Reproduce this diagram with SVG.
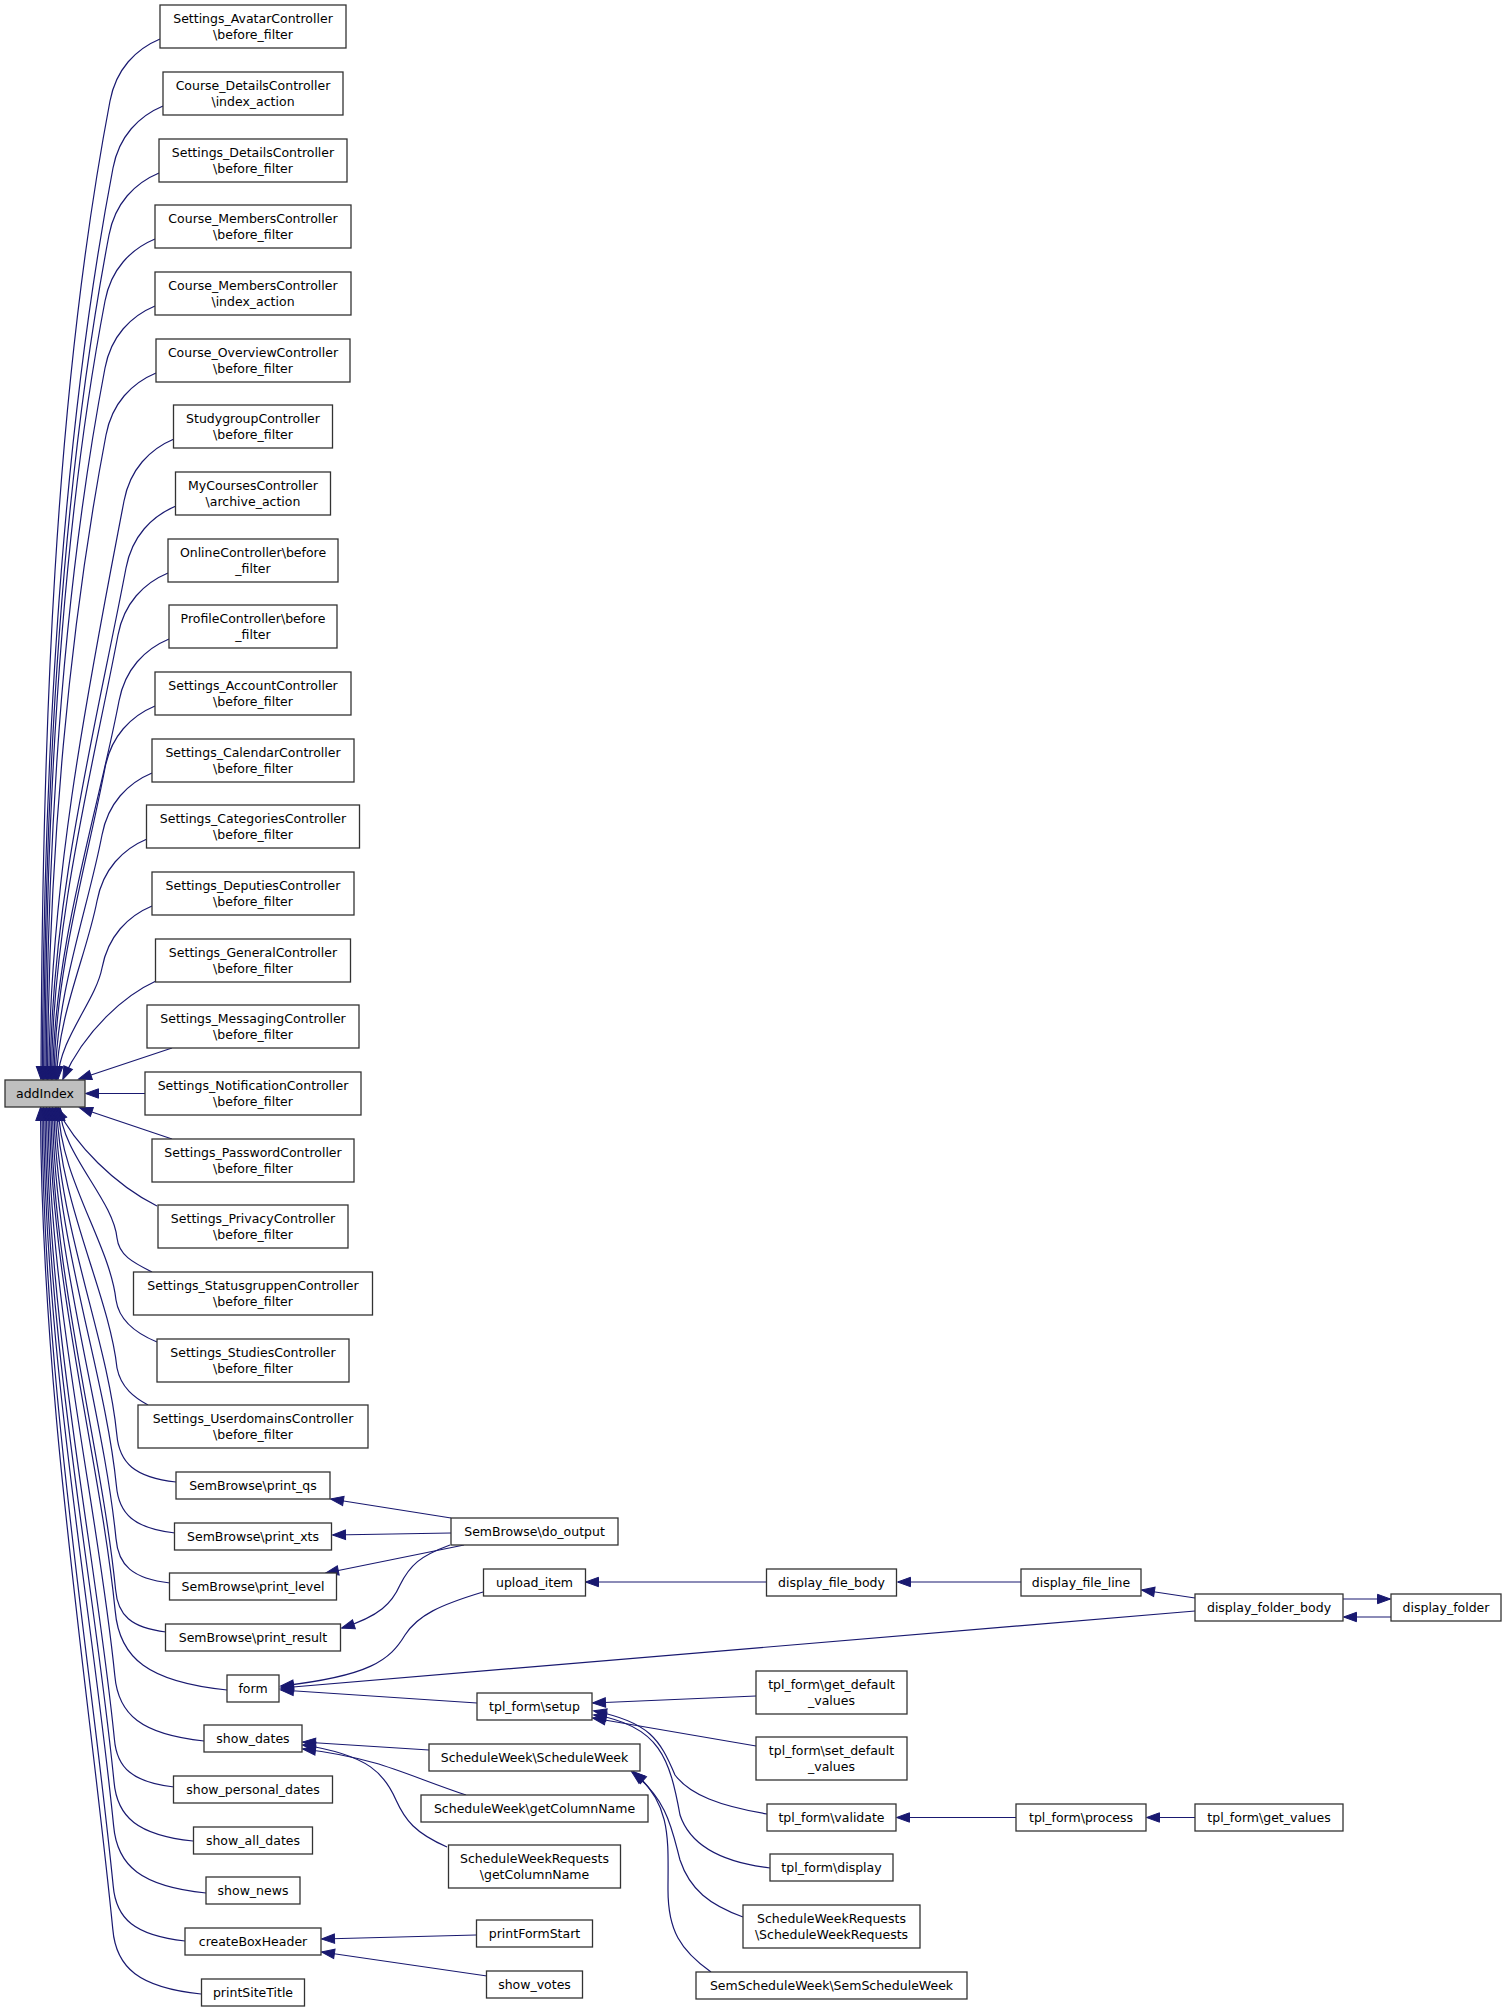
<svg xmlns="http://www.w3.org/2000/svg" width="1507" height="2011" viewBox="0 0 1507 2011">
<style>
.node rect{fill:#ffffff;stroke:#333333;stroke-width:1.3}
.node.root rect{fill:#bfbfbf}
text{font-family:"DejaVu Sans","Liberation Sans",sans-serif;font-size:12.5px;text-anchor:middle;fill:#000000}
#edges path{fill:none;stroke:#191970;stroke-width:1.2;marker-end:url(#ah)}
</style>
<defs>
<marker id="ah" viewBox="0 0 13 10" refX="12.5" refY="5" markerWidth="13" markerHeight="10" markerUnits="userSpaceOnUse" orient="auto" overflow="visible">
<path d="M0,0.3 L13,5 L0,9.7 Z" fill="#191970" stroke="#191970" stroke-width="1"/>
</marker>
</defs>
<rect x="0" y="0" width="1507" height="2011" fill="#ffffff"/>
<g id="edges">
<path d="M160,39 C136,49 116,69 110,101 C54.3,394 42,736 41,1079"/>
<path d="M163,106 C139,116 119,136 113,168 C61,441 43.3,759.5 42.3,1079"/>
<path d="M159,173 C135,183 115,203 109,235 C61,488 44.6,783 43.6,1079"/>
<path d="M155,239 C131,249 111,269 105,301 C60.7,534 45.9,806 44.9,1079"/>
<path d="M155,306 C131,316 111,336 105,368 C64.5,581 47.2,829.5 46.2,1079"/>
<path d="M156,373 C132,383 112,403 106,435 C69.3,628 48.5,853 47.5,1079"/>
<path d="M174,439 C150,449 130,469 124,501 C91,674 49.8,876 48.8,1079"/>
<path d="M176,506 C152,516 132,536 126,568 C97,721 51.1,899.5 50.1,1079"/>
<path d="M168,573 C144,583 124,603 118,635 C92.7,768 52.4,923 51.4,1079"/>
<path d="M169,639 C145,649 125,669 119,701 C97.5,814 53.7,946 52.7,1079"/>
<path d="M155,706 C131,716 111,736 105,768 C87.3,861 55,969.5 54,1079"/>
<path d="M152,773 C128,783 108,803 102,835 C88.1,908 56.3,993 55.3,1079"/>
<path d="M147,839 C123,849 103,869 97,901 C86.9,954 57.6,1016 56.6,1079"/>
<path d="M152,906 C128,916 108,936 102,968 C95.7,1001 58.9,1039.5 57.9,1079"/>
<path d="M156,981 C125,995 85,1030 63,1079"/>
<path d="M172,1048 L79,1079"/>
<path d="M145,1093.5 L86,1093.5"/>
<path d="M172,1139 L80,1108"/>
<path d="M157,1206 C115,1185 75,1145 57,1108"/>
<path d="M152,1272 C132,1262 119,1255 117,1238 C113,1199 61,1153 60,1108"/>
<path d="M157,1342 C135,1333 119,1320 116,1300 C110,1245 59.5,1177 58.5,1108"/>
<path d="M148,1405 C135,1398 121,1388 117,1368 C109,1294 58,1200 57,1108"/>
<path d="M176,1482 C134.6,1477.3 119.2,1463 116.8,1434.5 C107,1336.2 56.5,1221.6 55.5,1108"/>
<path d="M175,1533 C134,1528.3 118.8,1514.1 116.4,1485.8 C105,1372.2 55,1239.6 54,1108"/>
<path d="M170,1583 C132.2,1578.6 118.2,1565.2 116,1538.6 C103,1409.1 53.5,1258.1 52.5,1108"/>
<path d="M166,1632 C130.7,1627.8 117.7,1615.1 115.6,1589.8 C101.1,1445 52,1276 51,1108"/>
<path d="M227,1690 C148.7,1682.1 119.2,1658.4 115.2,1610.9 C100.1,1459.7 50.5,1283.4 49.5,1108"/>
<path d="M204,1741 C141.6,1734.5 118.1,1714.8 114.8,1675.5 C97.7,1504.9 49,1306 48,1108"/>
<path d="M174,1787 C132.3,1782.2 116.8,1767.9 114.4,1739.2 C95.4,1549.5 47.5,1328.3 46.5,1108"/>
<path d="M193,1841 C137.7,1835.1 117,1817.2 114,1781.6 C93.8,1579.2 46,1343.1 45,1108"/>
<path d="M206,1893 C141.3,1886.3 117,1866 113.6,1825.6 C92,1610 44.5,1358.5 43.5,1108"/>
<path d="M185,1941 C134.7,1935.5 116,1919 113.2,1885.9 C89.8,1652.2 43,1379.6 42,1108"/>
<path d="M201,1994 C139.3,1987.5 116,1968 112.8,1929.1 C88.1,1682.5 41.5,1394.7 40.5,1108"/>
<path d="M451,1518 L331,1499"/>
<path d="M451,1533 L333,1535"/>
<path d="M464,1545 L326,1573"/>
<path d="M450,1545 C420,1556 410,1565 400,1585 C392,1603 380,1616 342,1628"/>
<path d="M483,1592 C440,1605 418,1615 405,1635 C390,1660 370,1676 281,1686"/>
<path d="M1195,1611 L281,1688"/>
<path d="M477,1703 L281,1690"/>
<path d="M767,1582 L586,1582"/>
<path d="M1021,1582 L898,1582"/>
<path d="M1195,1598 L1142,1590"/>
<path d="M1343,1599 L1390,1599"/>
<path d="M1391,1617 L1344,1617"/>
<path d="M756,1696 L593,1703"/>
<path d="M756,1746 L593,1718"/>
<path d="M767,1814 C720,1806 690,1795 675,1775 C660,1740 650,1722 594,1711"/>
<path d="M770,1868 C720,1862 690,1845 680,1815 C670,1760 660,1725 594,1715"/>
<path d="M743,1917 C710,1905 690,1890 680,1860 C672,1830 668,1800 632,1772"/>
<path d="M711,1972 C680,1950 668,1930 668,1890 C668,1840 672,1805 634,1772"/>
<path d="M429,1750 L303,1742"/>
<path d="M466,1795 C430,1783 400,1770 375,1763 C350,1756 320,1751 303,1749"/>
<path d="M447,1847 C415,1833 405,1820 396,1800 C385,1775 370,1755 303,1745"/>
<path d="M476,1935 L322,1939"/>
<path d="M487,1976 L322,1952"/>
<path d="M1016,1817.5 L897,1817.5"/>
<path d="M1195,1817.5 L1147,1817.5"/>
</g>
<g id="addIndex" class="node root"><rect x="5" y="1080" width="80" height="27"/><text x="45" y="1097.5">addIndex</text></g>
<g id="n_settings_avatar" class="node"><rect x="160" y="5" width="186" height="43"/><text x="253" y="23">Settings_AvatarController</text><text x="253" y="38.5">\before_filter</text></g>
<g id="n_course_details" class="node"><rect x="163" y="72" width="180" height="43"/><text x="253" y="90">Course_DetailsController</text><text x="253" y="105.5">\index_action</text></g>
<g id="n_settings_details" class="node"><rect x="159" y="139" width="188" height="43"/><text x="253" y="157">Settings_DetailsController</text><text x="253" y="172.5">\before_filter</text></g>
<g id="n_course_members_bf" class="node"><rect x="155" y="205" width="196" height="43"/><text x="253" y="223">Course_MembersController</text><text x="253" y="238.5">\before_filter</text></g>
<g id="n_course_members_ia" class="node"><rect x="155" y="272" width="196" height="43"/><text x="253" y="290">Course_MembersController</text><text x="253" y="305.5">\index_action</text></g>
<g id="n_course_overview" class="node"><rect x="156" y="339" width="194" height="43"/><text x="253" y="357">Course_OverviewController</text><text x="253" y="372.5">\before_filter</text></g>
<g id="n_studygroup" class="node"><rect x="173.5" y="405" width="159" height="43"/><text x="253" y="423">StudygroupController</text><text x="253" y="438.5">\before_filter</text></g>
<g id="n_mycourses" class="node"><rect x="175.5" y="472" width="155" height="43"/><text x="253" y="490">MyCoursesController</text><text x="253" y="505.5">\archive_action</text></g>
<g id="n_online" class="node"><rect x="168" y="539" width="170" height="43"/><text x="253" y="557">OnlineController\before</text><text x="253" y="572.5">_filter</text></g>
<g id="n_profile" class="node"><rect x="169" y="605" width="168" height="43"/><text x="253" y="623">ProfileController\before</text><text x="253" y="638.5">_filter</text></g>
<g id="n_settings_account" class="node"><rect x="155" y="672" width="196" height="43"/><text x="253" y="690">Settings_AccountController</text><text x="253" y="705.5">\before_filter</text></g>
<g id="n_settings_calendar" class="node"><rect x="152" y="739" width="202" height="43"/><text x="253" y="757">Settings_CalendarController</text><text x="253" y="772.5">\before_filter</text></g>
<g id="n_settings_categories" class="node"><rect x="146.5" y="805" width="213" height="43"/><text x="253" y="823">Settings_CategoriesController</text><text x="253" y="838.5">\before_filter</text></g>
<g id="n_settings_deputies" class="node"><rect x="152" y="872" width="202" height="43"/><text x="253" y="890">Settings_DeputiesController</text><text x="253" y="905.5">\before_filter</text></g>
<g id="n_settings_general" class="node"><rect x="155.5" y="939" width="195" height="43"/><text x="253" y="957">Settings_GeneralController</text><text x="253" y="972.5">\before_filter</text></g>
<g id="n_settings_messaging" class="node"><rect x="147" y="1005" width="212" height="43"/><text x="253" y="1023">Settings_MessagingController</text><text x="253" y="1038.5">\before_filter</text></g>
<g id="n_settings_notification" class="node"><rect x="145" y="1072" width="216" height="43"/><text x="253" y="1090">Settings_NotificationController</text><text x="253" y="1105.5">\before_filter</text></g>
<g id="n_settings_password" class="node"><rect x="152" y="1139" width="202" height="43"/><text x="253" y="1157">Settings_PasswordController</text><text x="253" y="1172.5">\before_filter</text></g>
<g id="n_settings_privacy" class="node"><rect x="158" y="1205" width="190" height="43"/><text x="253" y="1223">Settings_PrivacyController</text><text x="253" y="1238.5">\before_filter</text></g>
<g id="n_settings_statusgruppen" class="node"><rect x="133.5" y="1272" width="239" height="43"/><text x="253" y="1290">Settings_StatusgruppenController</text><text x="253" y="1305.5">\before_filter</text></g>
<g id="n_settings_studies" class="node"><rect x="157" y="1339" width="192" height="43"/><text x="253" y="1357">Settings_StudiesController</text><text x="253" y="1372.5">\before_filter</text></g>
<g id="n_settings_userdomains" class="node"><rect x="138" y="1405" width="230" height="43"/><text x="253" y="1423">Settings_UserdomainsController</text><text x="253" y="1438.5">\before_filter</text></g>
<g id="n_print_qs" class="node"><rect x="176" y="1472" width="154" height="27"/><text x="253" y="1489.5">SemBrowse\print_qs</text></g>
<g id="n_print_xts" class="node"><rect x="174.5" y="1523" width="157" height="27"/><text x="253" y="1540.5">SemBrowse\print_xts</text></g>
<g id="n_print_level" class="node"><rect x="169.5" y="1573" width="167" height="27"/><text x="253" y="1590.5">SemBrowse\print_level</text></g>
<g id="n_print_result" class="node"><rect x="165.5" y="1624" width="175" height="27"/><text x="253" y="1641.5">SemBrowse\print_result</text></g>
<g id="n_form" class="node"><rect x="227" y="1675" width="52" height="27"/><text x="253" y="1692.5">form</text></g>
<g id="n_show_dates" class="node"><rect x="204" y="1725" width="98" height="27"/><text x="253" y="1742.5">show_dates</text></g>
<g id="n_show_personal_dates" class="node"><rect x="173.5" y="1776" width="159" height="27"/><text x="253" y="1793.5">show_personal_dates</text></g>
<g id="n_show_all_dates" class="node"><rect x="193.5" y="1827" width="119" height="27"/><text x="253" y="1844.5">show_all_dates</text></g>
<g id="n_show_news" class="node"><rect x="206" y="1877" width="94" height="27"/><text x="253" y="1894.5">show_news</text></g>
<g id="n_createBoxHeader" class="node"><rect x="185" y="1928" width="136" height="27"/><text x="253" y="1945.5">createBoxHeader</text></g>
<g id="n_printSiteTitle" class="node"><rect x="201.5" y="1979" width="103" height="27"/><text x="253" y="1996.5">printSiteTitle</text></g>
<g id="n_do_output" class="node"><rect x="451" y="1518" width="167" height="27"/><text x="534.5" y="1535.5">SemBrowse\do_output</text></g>
<g id="n_upload_item" class="node"><rect x="483.5" y="1569" width="102" height="27"/><text x="534.5" y="1586.5">upload_item</text></g>
<g id="n_setup" class="node"><rect x="477" y="1693" width="115" height="27"/><text x="534.5" y="1710.5">tpl_form\setup</text></g>
<g id="n_scheduleweek" class="node"><rect x="429" y="1744" width="211" height="27"/><text x="534.5" y="1761.5">ScheduleWeek\ScheduleWeek</text></g>
<g id="n_sw_getcolumnname" class="node"><rect x="421" y="1795" width="227" height="27"/><text x="534.5" y="1812.5">ScheduleWeek\getColumnName</text></g>
<g id="n_swr_getcolumnname" class="node"><rect x="448.5" y="1845" width="172" height="43"/><text x="534.5" y="1863">ScheduleWeekRequests</text><text x="534.5" y="1878.5">\getColumnName</text></g>
<g id="n_printFormStart" class="node"><rect x="476.5" y="1920" width="116" height="27"/><text x="534.5" y="1937.5">printFormStart</text></g>
<g id="n_show_votes" class="node"><rect x="486.5" y="1971" width="96" height="27"/><text x="534.5" y="1988.5">show_votes</text></g>
<g id="n_display_file_body" class="node"><rect x="766.5" y="1569" width="130" height="27"/><text x="831.5" y="1586.5">display_file_body</text></g>
<g id="n_get_default_values" class="node"><rect x="756" y="1671" width="151" height="43"/><text x="831.5" y="1689">tpl_form\get_default</text><text x="831.5" y="1704.5">_values</text></g>
<g id="n_set_default_values" class="node"><rect x="756" y="1737" width="151" height="43"/><text x="831.5" y="1755">tpl_form\set_default</text><text x="831.5" y="1770.5">_values</text></g>
<g id="n_validate" class="node"><rect x="767" y="1804" width="129" height="27"/><text x="831.5" y="1821.5">tpl_form\validate</text></g>
<g id="n_display" class="node"><rect x="770" y="1854" width="123" height="27"/><text x="831.5" y="1871.5">tpl_form\display</text></g>
<g id="n_swr_swr" class="node"><rect x="743" y="1905" width="177" height="43"/><text x="831.5" y="1923">ScheduleWeekRequests</text><text x="831.5" y="1938.5">\ScheduleWeekRequests</text></g>
<g id="n_semscheduleweek" class="node"><rect x="696" y="1972" width="271" height="27"/><text x="831.5" y="1989.5">SemScheduleWeek\SemScheduleWeek</text></g>
<g id="n_display_file_line" class="node"><rect x="1021" y="1569" width="120" height="27"/><text x="1081" y="1586.5">display_file_line</text></g>
<g id="n_process" class="node"><rect x="1016" y="1804" width="130" height="27"/><text x="1081" y="1821.5">tpl_form\process</text></g>
<g id="n_display_folder_body" class="node"><rect x="1195" y="1594" width="148" height="27"/><text x="1269" y="1611.5">display_folder_body</text></g>
<g id="n_get_values" class="node"><rect x="1195" y="1804" width="148" height="27"/><text x="1269" y="1821.5">tpl_form\get_values</text></g>
<g id="n_display_folder" class="node"><rect x="1391" y="1594" width="110" height="27"/><text x="1446" y="1611.5">display_folder</text></g>
</svg>
